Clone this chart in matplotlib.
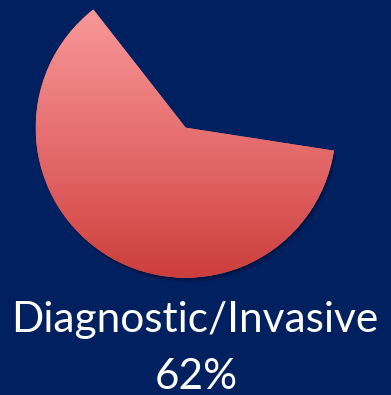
import matplotlib.pyplot as plt
import numpy as np
from matplotlib.colors import LinearSegmentedColormap

# share of procedures
labels = ['Diagnostic/Invasive', 'Other']
shares = [62, 38]

bg = '#002060'
W, H = 391, 395
cx, cy, r = 185.7, 267.3, 150

fig = plt.figure(figsize=(W / 100, H / 100), dpi=100, facecolor=bg)
ax = fig.add_axes([0, 0, 1, 1])
ax.set_facecolor(bg)

# soft shadow below the wedge
for k, a in zip([5, 4, 3, 2], [0.08, 0.12, 0.16, 0.2]):
    sh, _ = ax.pie(shares, startangle=128, radius=r, center=(cx + k * 0.6, cy - k),
                   colors=['#000a25', 'none'], wedgeprops=dict(linewidth=0, alpha=a))

wedges, _ = ax.pie(shares, startangle=128, radius=r, center=(cx, cy),
                   colors=['#e87070', 'none'], wedgeprops=dict(linewidth=0))

# vertical gradient clipped to the first wedge
cmap = LinearSegmentedColormap.from_list('fill', ['#fba3a3', '#ef8282', '#e06262', '#cc3e3b'])
grad = np.linspace(0, 1, 256).reshape(-1, 1)
img = ax.imshow(grad, cmap=cmap, aspect='auto', origin='upper',
                extent=(cx - r, cx + r, cy - r, cy + r), zorder=3)
img.set_clip_path(wedges[0])

ax.text(195, 63, labels[0], color='white', fontsize=30.5,
        family='Lato', ha='center', va='baseline')
ax.text(196, 6, f'{shares[0]}%', color='white', fontsize=30.5,
        family='Lato', ha='center', va='baseline')

ax.set_xlim(0, W)
ax.set_ylim(0, H)
ax.set_aspect('auto')
ax.axis('off')

fig.savefig('out.png', dpi=100, facecolor=bg)
